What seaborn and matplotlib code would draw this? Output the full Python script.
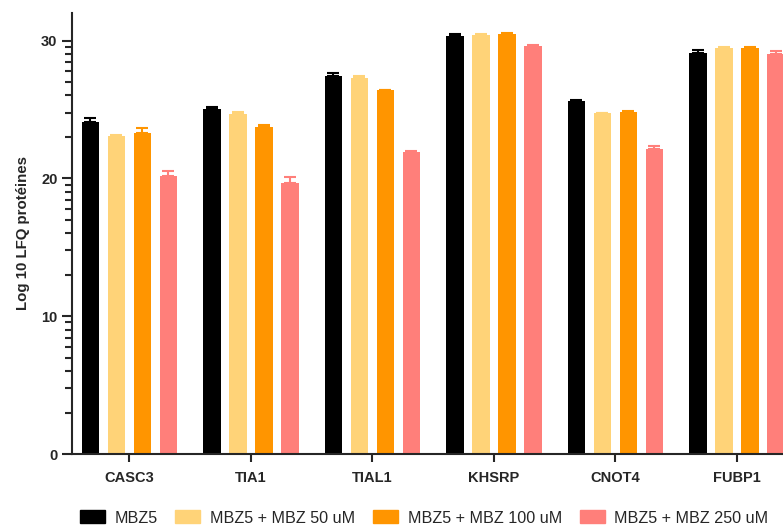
import numpy as np
import pandas as pd
import matplotlib
matplotlib.use("Agg")
import matplotlib.pyplot as plt
from matplotlib.ticker import FixedLocator
import seaborn as sns

# données
proteins = ["CASC3", "TIA1", "TIAL1", "KHSRP", "CNOT4", "FUBP1"]
conditions = ["MBZ5", "MBZ5 + MBZ 50 uM", "MBZ5 + MBZ 100 uM", "MBZ5 + MBZ 250 uM"]
mbz5 = [24.1, 25.0, 27.46, 30.36, 25.58, 29.1]
mbz50 = [23.04, 24.64, 27.25, 30.43, 24.71, 29.49]
mbz100 = [23.26, 23.74, 26.38, 30.46, 24.83, 29.47]
mbz250 = [20.2, 19.64, 21.9, 29.59, 22.15, 28.99]
sd_mbz5 = [0.3, 0.17, 0.17, 0.1, 0.14, 0.24]
sd_mbz50 = [0.12, 0.16, 0.16, 0.05, 0.05, 0.05]
sd_mbz100 = [0.4, 0.16, 0.05, 0.07, 0.05, 0.05]
sd_mbz250 = [0.3, 0.46, 0.07, 0.08, 0.19, 0.23]
colors = ["#000000", "#FFD378", "#FF9500", "#FF7F7A"]

means = [mbz5, mbz50, mbz100, mbz250]
sds = [sd_mbz5, sd_mbz50, sd_mbz100, sd_mbz250]

df = pd.DataFrame({
    "protein": np.tile(proteins, len(conditions)),
    "condition": np.repeat(conditions, len(proteins)),
    "value": np.concatenate(means),
})

sns.set_style("ticks")
plt.rcParams['font.family'] = ['Liberation Sans', 'DejaVu Sans']

fig = plt.figure(figsize=(7.83, 5.28), dpi=100)
# l'axe dépasse à droite comme sur l'image d'origine (recadrée)
x_left, x_right = -0.473, 5.5
px_unit = 121.5
ax = fig.add_axes([72 / 783, 74 / 528, (x_right - x_left) * px_unit / 783, 441 / 528])

sns.barplot(data=df, x="protein", y="value", hue="condition", order=proteins,
            hue_order=conditions, palette=dict(zip(conditions, colors)), saturation=1,
            width=0.856, gap=0.33, errorbar=None, linewidth=0, legend=False, ax=ax)

# barres d'erreur vers le haut seulement (style GraphPad)
for cont, sd, col in zip(ax.containers, sds, colors):
    xs = [b.get_x() + b.get_width() / 2 for b in cont]
    ys = [b.get_height() for b in cont]
    ax.errorbar(xs, ys, yerr=[np.zeros(len(sd)), sd], fmt="none", ecolor=col,
                elinewidth=1.5, capsize=4.3, capthick=1.5, zorder=3)

ax.set_xlim(x_left, x_right)
ax.set_ylim(0, 32)
ax.set_yticks([0, 10, 20, 30])
minor = [b + 10 * np.log10(k) for b in (0, 10, 20, 30) for k in range(2, 10)]
ax.yaxis.set_minor_locator(FixedLocator([m for m in minor if m <= 32]))
ax.tick_params(axis="y", which="major", length=7, width=1.5, labelsize=10.5)
ax.tick_params(axis="y", which="minor", length=5, width=1.5)
ax.tick_params(axis="x", length=6, width=1.5, labelsize=10.5, pad=6)
for lab in ax.get_xticklabels() + ax.get_yticklabels():
    lab.set_fontweight("bold")

sns.despine(ax=ax)
ax.spines["left"].set_linewidth(1.5)
ax.spines["bottom"].set_linewidth(1.5)
ax.set_xlabel("")
ax.set_ylabel("Log 10 LFQ protéines", fontsize=10.8, fontweight="bold", labelpad=8)

handles = [plt.Rectangle((0, 0), 1, 1, color=c) for c in colors]
fig.legend(handles, conditions, loc="center left", bbox_to_anchor=(80 / 783, 10 / 528),
           ncol=4, frameon=False, fontsize=11.6, handlelength=1.55, handleheight=0.85,
           handletextpad=0.6, columnspacing=1.1, borderpad=0, borderaxespad=0)

fig.savefig("out.png", dpi=100)
